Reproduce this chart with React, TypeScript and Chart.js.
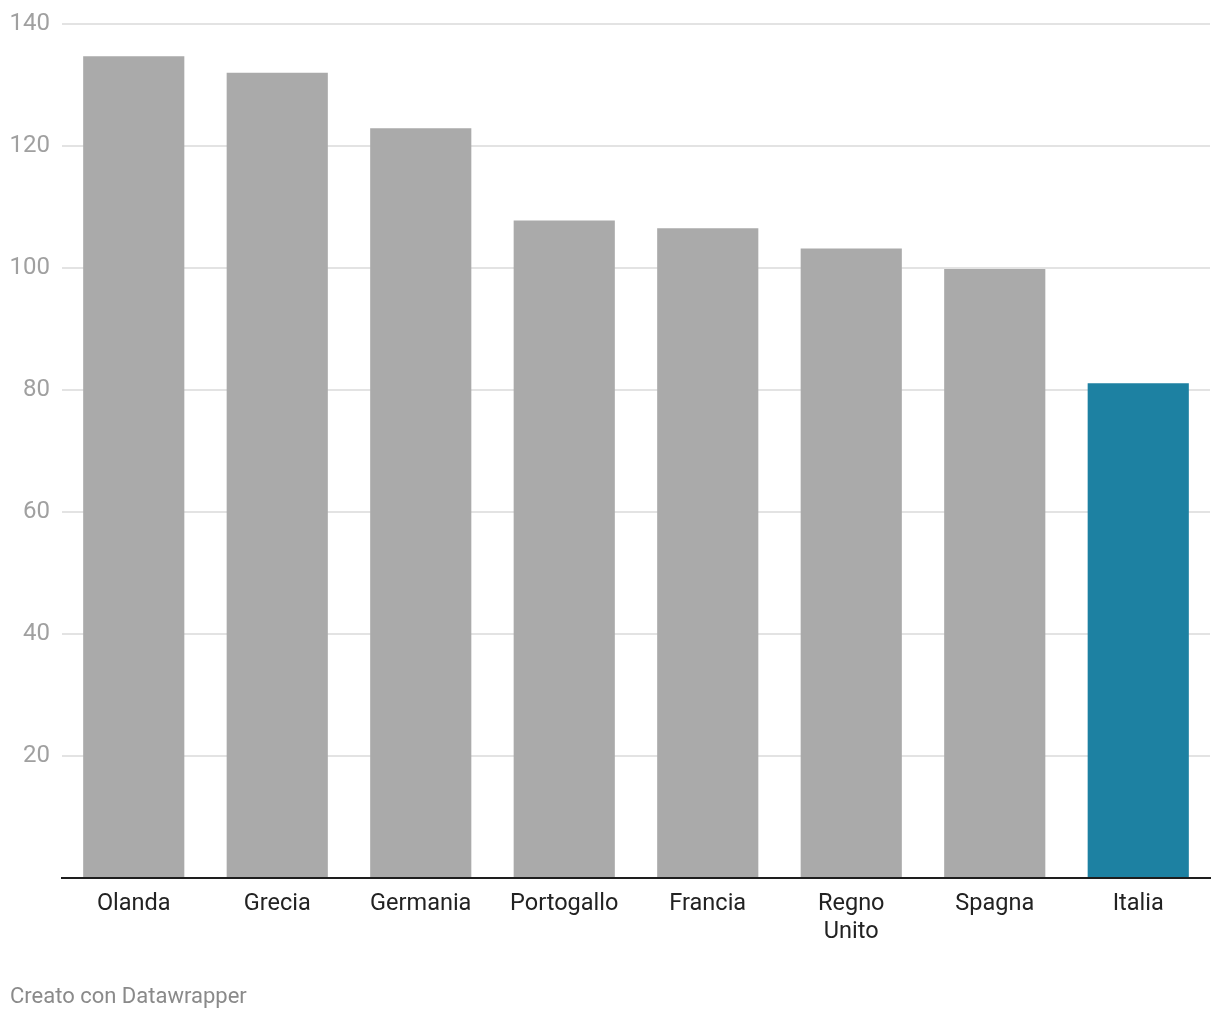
import React, { useEffect, useRef } from "react";
import { Chart, registerables } from "chart.js";

Chart.register(...registerables);

const categories: (string | string[])[] = ["Olanda", "Grecia", "Germania", "Portogallo", "Francia", ["Regno", "Unito"], "Spagna", "Italia"];
const values: number[] = [134.7, 132.0, 122.9, 107.8, 106.5, 103.2, 99.85, 81.1];
const barColors: string[] = ["#aaaaaa", "#aaaaaa", "#aaaaaa", "#aaaaaa", "#aaaaaa", "#aaaaaa", "#aaaaaa", "#1d81a2"];
const yTicks: number[] = [0, 20, 40, 60, 80, 100, 120, 140];
const footerText = "Creato con Datawrapper";

const footerPlugin = {
  id: "footer",
  afterDraw(chart: any) {
    const ctx = chart.ctx;
    ctx.save();
    ctx.font = "22px Roboto";
    ctx.fillStyle = "#8a8a8a";
    ctx.textAlign = "left";
    ctx.textBaseline = "middle";
    ctx.fillText(footerText, 10, 997);
    ctx.restore();
  },
};

export default function App() {
  const ref = useRef<HTMLCanvasElement | null>(null);
  useEffect(() => {
    document.body.style.margin = "0";
    const canvas = ref.current;
    if (!canvas) return;
    const chart = new Chart(canvas, {
      type: "bar",
      data: {
        labels: categories as any,
        datasets: [
          {
            data: values,
            backgroundColor: barColors,
            barPercentage: 0.705,
            categoryPercentage: 1,
          },
        ],
      },
      options: {
        responsive: false,
        animation: false,
        layout: { padding: { left: 0, right: 10, top: 23, bottom: 0 } },
        plugins: {
          legend: { display: false },
          tooltip: { enabled: false },
        },
        scales: {
          x: {
            grid: { display: false, drawTicks: false },
            border: { display: true, color: "#1e1e1e", width: 2 },
            ticks: {
              color: "#222222",
              font: { family: "Roboto", size: 23.5, lineHeight: 1.19 },
              padding: 12,
              maxRotation: 0,
              autoSkip: false,
            },
            afterFit(scale: any) {
              scale.height = 142;
            },
          },
          y: {
            min: 0,
            max: 140,
            afterBuildTicks(scale: any) {
              scale.ticks = yTicks.map((v) => ({ value: v }));
            },
            grid: {
              color: (c: any) => (c.tick && c.tick.value === 0 ? "rgba(0,0,0,0)" : "#e3e3e3"),
              lineWidth: 2,
              drawTicks: false,
            },
            border: { display: false },
            ticks: {
              color: "#a0a0a0",
              font: { family: "Roboto", size: 24, lineHeight: 1 },
              padding: 12,
              callback: (v: any) => (v === 0 ? "" : String(v)),
            },
            afterFit(scale: any) {
              scale.width = 62;
            },
          },
        },
      },
      plugins: [footerPlugin],
    });
    return () => chart.destroy();
  }, []);
  return (
    <div style={{ width: 1220, height: 1020, background: "#fff" }}>
      <canvas ref={ref} width={1220} height={1020} style={{ display: "block" }} />
    </div>
  );
}
